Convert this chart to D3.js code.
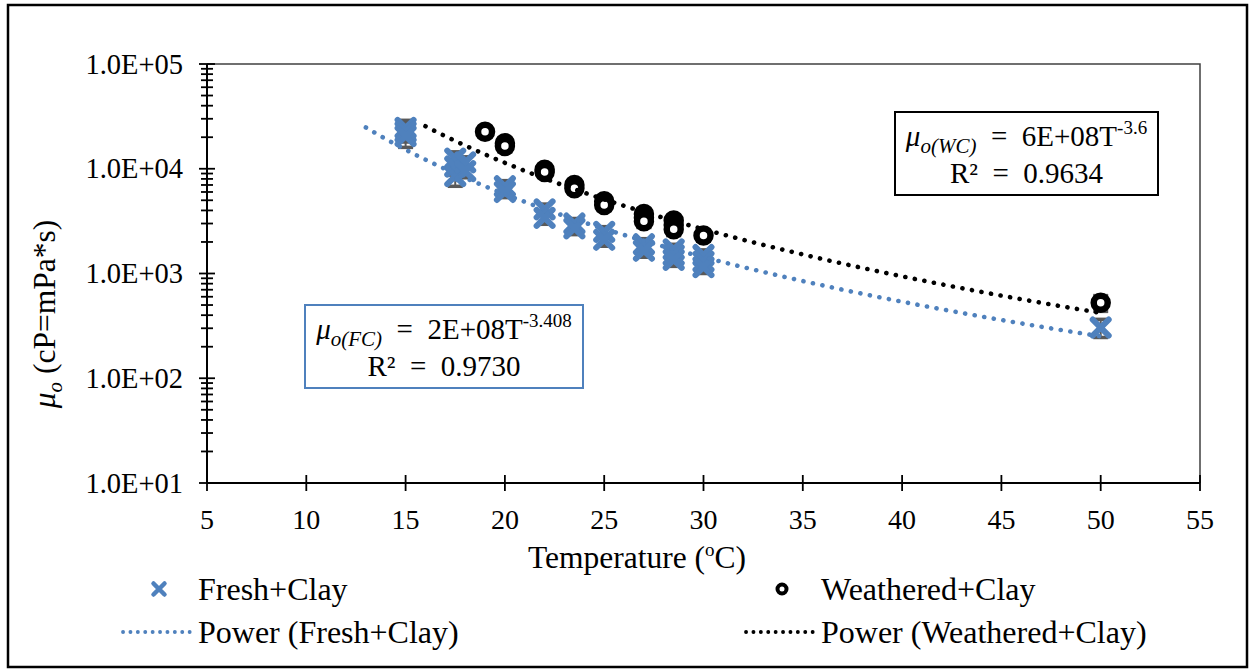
<!DOCTYPE html>
<html><head><meta charset="utf-8">
<script src="https://cdn.jsdelivr.net/npm/d3@7"></script>
<style>
body{margin:0;background:#fff}
svg{display:block}
text{font-family:"Liberation Serif","Times New Roman",serif;fill:#000}
</style>
</head><body><svg id="c" width="1254" height="670"></svg>
<script>
// ---------- data ----------
const xTicks = [5,10,15,20,25,30,35,40,45,50,55];
const yTicks = [10,100,1000,10000,100000];
const yTickLabels = ["1.0E+01","1.0E+02","1.0E+03","1.0E+04","1.0E+05"];

const freshT   = [15,15,15, 17.5,17.5,17.5, 18,18, 20,20, 22,22, 23.5,23.5, 25,25, 27,27, 28.5,28.5,28.5, 30,30,30, 50];
const freshMu  = [24500,22500,20500, 12500,10500,8500, 11500,9500, 6800,6000, 4100,3400, 3000,2700, 2500,2100, 1900,1650, 1700,1500,1350, 1500,1300,1150, 305];
const freshErr = [4500,4500,4500, 2000,1800,1700, 1500,1300, 900,700, 500,450, 350,350, 300,280, 250,220, 200,200,180, 180,160,150, 60];

const weathT   = [19, 20,20, 22,22, 23.5,23.5, 25,25, 27,27,27, 28.5,28.5,28.5, 30, 50];
const weathMu  = [22500, 17500,16500, 9800,9300, 7000,6500, 4900,4500, 3700,3400,3150, 3200,2900,2650, 2300, 525];
const weathErr = [2500, 2000,2000, 1000,1000, 700,700, 500,500, 400,400,400, 350,350,350, 250, 90];

// power trendlines y = a * T^b (coefficients)
const freshFit = {a:1.55e8, b:-3.408, from:13, to:50};
const weathFit = {a:5.5e8,  b:-3.6,   from:16, to:50};

const seriesNames = ["Fresh+Clay","Weathered+Clay","Power (Fresh+Clay)","Power (Weathered+Clay)"];

// ---------- layout ----------
const L=207,R=1200,T=64,B=483;
const blue="#4F81BD", errCol="#595959";
const EN="\u2002";

const svg=d3.select("#c");
const x=d3.scaleLinear().domain([5,55]).range([L,R]);
const y=d3.scaleLog().domain([10,100000]).range([B,T]);

// outer border
svg.append("rect").attr("x",8).attr("y",5).attr("width",1239).attr("height",662)
  .attr("fill","none").attr("stroke","#000").attr("stroke-width",2.5);

// plot area border (top/right)
svg.append("path").attr("d",`M${L},${T}H${R}V${B}`).attr("fill","none")
  .attr("stroke","#404040").attr("stroke-width",1.5);

// x axis
const xa=svg.append("g");
xa.append("line").attr("x1",L).attr("x2",R).attr("y1",B).attr("y2",B).attr("stroke","#000").attr("stroke-width",2);
xa.selectAll("line.t").data(xTicks).enter().append("line").attr("class","t")
  .attr("x1",d=>x(d)).attr("x2",d=>x(d)).attr("y1",B-8).attr("y2",B+8).attr("stroke","#000").attr("stroke-width",1.8);
xa.selectAll("text").data(xTicks).enter().append("text")
  .attr("x",d=>x(d)).attr("y",B+46).attr("text-anchor","middle").attr("font-size",28).text(d=>d);

// y axis
const ya=svg.append("g");
ya.append("line").attr("x1",L).attr("x2",L).attr("y1",T).attr("y2",B).attr("stroke","#000").attr("stroke-width",2);
const minor=[];
for(let e=1;e<5;e++) for(let k=2;k<=9;k++) minor.push(k*Math.pow(10,e));
ya.selectAll("line.m").data(minor).enter().append("line").attr("class","m")
  .attr("x1",L-6).attr("x2",L+6).attr("y1",d=>y(d)).attr("y2",d=>y(d)).attr("stroke","#000").attr("stroke-width",1.8);
ya.selectAll("line.t").data(yTicks).enter().append("line").attr("class","t")
  .attr("x1",L-8).attr("x2",L+8).attr("y1",d=>y(d)).attr("y2",d=>y(d)).attr("stroke","#000").attr("stroke-width",1.8);
ya.selectAll("text").data(yTicks).enter().append("text")
  .attr("x",L-24).attr("y",d=>y(d)+9.5).attr("text-anchor","end").attr("font-size",28.5)
  .text((d,i)=>yTickLabels[i]);

// axis titles
const xt=svg.append("text").attr("x",637).attr("y",568).attr("text-anchor","middle").attr("font-size",31.5);
xt.append("tspan").text("Temperature (");
xt.append("tspan").attr("font-size",19).attr("dy",-12).text("o");
xt.append("tspan").attr("dy",12).text("C)");

const yt=svg.append("text").attr("transform","translate(55,314) rotate(-90)").attr("text-anchor","middle").attr("font-size",31.5);
yt.append("tspan").attr("font-style","italic").text("μ");
yt.append("tspan").attr("font-style","italic").attr("font-size",21).attr("dy",7).text("o");
yt.append("tspan").attr("dy",-7).text(" (cP=mPa*s)");

// ---------- plot ----------
const plot=svg.append("g");
function errBars(Ts,Ms,Es){
  const g=plot.append("g").attr("stroke",errCol).attr("stroke-width",2);
  Ts.forEach((t,i)=>{
    const cx=x(t), y1=y(Ms[i]+Es[i]), y2=y(Ms[i]-Es[i]);
    g.append("line").attr("x1",cx).attr("x2",cx).attr("y1",y1).attr("y2",y2);
    g.append("line").attr("x1",cx-7.5).attr("x2",cx+7.5).attr("y1",y1).attr("y2",y1).attr("stroke-width",3.5);
    g.append("line").attr("x1",cx-7.5).attr("x2",cx+7.5).attr("y1",y2).attr("y2",y2).attr("stroke-width",3.5);
  });
}
errBars(freshT,freshMu,freshErr);
errBars(weathT,weathMu,weathErr);

const xPath="M-8,-8L8,8M-8,8L8,-8";
plot.append("g").selectAll("path").data(freshT).enter().append("path")
  .attr("transform",(d,i)=>`translate(${x(d)},${y(freshMu[i])})`)
  .attr("d",xPath).attr("stroke",blue).attr("stroke-width",6).attr("stroke-linecap","round");

plot.append("g").selectAll("circle").data(weathT).enter().append("circle")
  .attr("cx",d=>x(d)).attr("cy",(d,i)=>y(weathMu[i])).attr("r",7)
  .attr("fill","#fff").attr("stroke","#000").attr("stroke-width",6.5);

// trendlines
function fitLine(f,col){
  const pts=d3.range(f.from,f.to+0.001,0.25).map(t=>[t,f.a*Math.pow(t,f.b)]);
  plot.append("path").datum(pts)
    .attr("d",d3.line().x(d=>x(d[0])).y(d=>y(d[1])))
    .attr("fill","none").attr("stroke",col).attr("stroke-width",4.6)
    .attr("stroke-linecap","round").attr("stroke-dasharray","0.1 9.6");
}
fitLine(freshFit,blue);
fitLine(weathFit,"#000");

// ---------- annotation boxes ----------
function eqBox(bx,by,bw,bh,stroke,sub,coef,exp,r2){
  const g=svg.append("g");
  g.append("rect").attr("x",bx).attr("y",by).attr("width",bw).attr("height",bh)
    .attr("fill","#fff").attr("stroke",stroke).attr("stroke-width",2);
  const t1=g.append("text").attr("x",bx+bw/2).attr("y",by+34).attr("text-anchor","middle").attr("font-size",29);
  t1.append("tspan").attr("font-style","italic").text("μ");
  t1.append("tspan").attr("font-style","italic").attr("font-size",21).attr("dy",7).text(sub);
  t1.append("tspan").attr("dy",-7).text(EN+"="+EN+coef);
  t1.append("tspan").attr("font-size",19).attr("dy",-12).text(exp);
  g.append("text").attr("x",bx+bw/2).attr("y",by+71).attr("text-anchor","middle").attr("font-size",29)
    .text("R²"+EN+"="+EN+r2);
}
eqBox(895,112,263,83,"#000","o(WC)","6E+08T","-3.6","0.9634");
eqBox(305,305,278,83,blue,"o(FC)","2E+08T","-3.408","0.9730");

// ---------- legend ----------
const lg=svg.append("g");
lg.append("path").attr("transform","translate(159,589)").attr("d","M-5.5,-5.5L5.5,5.5M-5.5,5.5L5.5,-5.5")
  .attr("stroke",blue).attr("stroke-width",4.5).attr("stroke-linecap","round");
lg.append("text").attr("x",198).attr("y",600).attr("font-size",32).text(seriesNames[0]);
lg.append("circle").attr("cx",782).attr("cy",589).attr("r",4.5).attr("fill","#fff").attr("stroke","#000").attr("stroke-width",4);
lg.append("text").attr("x",821).attr("y",600).attr("font-size",32).text(seriesNames[1]);
lg.append("line").attr("x1",123).attr("x2",195).attr("y1",632).attr("y2",632).attr("stroke",blue)
  .attr("stroke-width",3.8).attr("stroke-linecap","round").attr("stroke-dasharray","0.1 7.3");
lg.append("text").attr("x",198).attr("y",643).attr("font-size",32).text(seriesNames[2]);
lg.append("line").attr("x1",746).attr("x2",818).attr("y1",632).attr("y2",632).attr("stroke","#000")
  .attr("stroke-width",3.8).attr("stroke-linecap","round").attr("stroke-dasharray","0.1 7.3");
lg.append("text").attr("x",821).attr("y",643).attr("font-size",32).text(seriesNames[3]);
</script></body></html>
